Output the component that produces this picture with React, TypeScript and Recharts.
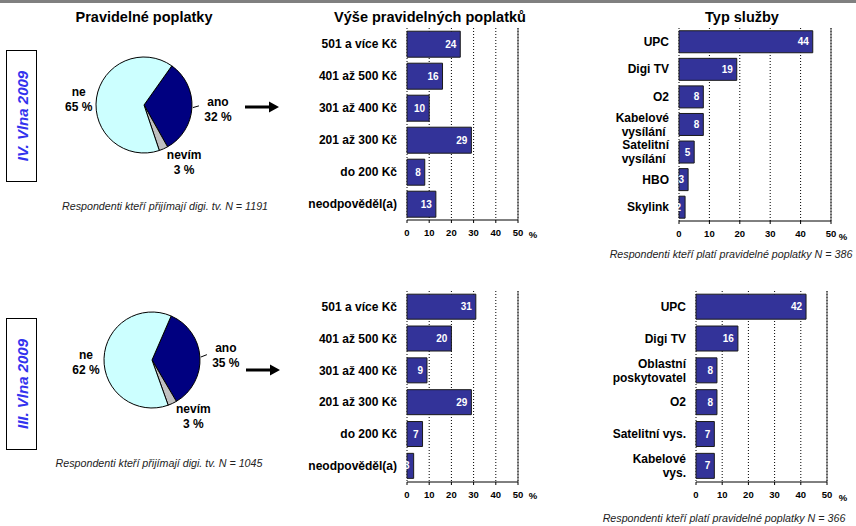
import React from "react";
import {
    PieChart,
    Pie,
    Cell,
    BarChart,
    Bar,
    XAxis,
    YAxis,
    CartesianGrid,
    ReferenceLine,
    LabelList,
} from "recharts";

// ---- data ----
const pieNames = ["ano", "nevím", "ne"];
const pieWaveIV = [32, 3, 65];
const pieWaveIII = [35, 3, 62];

const feeCategories = ["501 a více Kč", "401 až 500 Kč", "301 až 400 Kč", "201 až 300 Kč", "do 200 Kč", "neodpověděl(a)"];
const feeWaveIV = [24, 16, 10, 29, 8, 13];
const feeWaveIII = [31, 20, 9, 29, 7, 3];

const serviceCatsIV = ["UPC", "Digi TV", "O2", "Kabelové\nvysílání\u00a0", "Satelitní\nvysílání\u00a0", "HBO", "Skylink"];
const serviceWaveIV = [44, 19, 8, 8, 5, 3, 2];
const serviceCatsIII = ["UPC", "Digi TV", "Oblastní\nposkytovatel", "O2", "Satelitní vys.", "Kabelové\nvys."];
const serviceWaveIII = [42, 16, 8, 8, 7, 7];

const xTicks = [0, 10, 20, 30, 40, 50];

const pieColors: Record<string, string> = { ano: "#000080", "nevím": "#C0C0C0", ne: "#CCFFFF" };
// label placement per slice (distance beyond radius, nudge)
const pieLabelPos: Record<string, { d: number; dx: number; dy: number }> = {
    ano: { d: 26, dx: 0, dy: 0 },
    "nevím": { d: 14, dx: 15, dy: 0 },
    ne: { d: 18, dx: 0, dy: 4 },
};

const toRows = (names: string[], values: number[]) => names.map((name, i) => ({ name, value: values[i] }));

const FONT = "'Liberation Sans', Arial, sans-serif";
const RAD = Math.PI / 180;

const renderPieLabel = (props: any) => {
    const { cx, cy, midAngle, outerRadius, name, value } = props;
    const p = pieLabelPos[name];
    const r = outerRadius + p.d;
    const x = cx + r * Math.cos(-midAngle * RAD) + p.dx;
    const y = cy + r * Math.sin(-midAngle * RAD) + p.dy;
    return (
        <g>
            {name === "ano" && (
                <line
                    x1={cx + (outerRadius + 1) * Math.cos(-midAngle * RAD)}
                    y1={cy + (outerRadius + 1) * Math.sin(-midAngle * RAD)}
                    x2={cx + (outerRadius + 7) * Math.cos(-midAngle * RAD)}
                    y2={cy + (outerRadius + 7) * Math.sin(-midAngle * RAD) - 2}
                    stroke="#000"
                />
            )}
            <text x={x} y={y} textAnchor="middle" fontSize={12} fontWeight="bold" fill="#000">
                <tspan x={x} dy={-3}>{name}</tspan>
                <tspan x={x} dy={15}>{`${value} %`}</tspan>
            </text>
        </g>
    );
};

const PieBlock = ({ values, cx, cy, top }: { values: number[]; cx: number; cy: number; top: number }) => {
    const data = toRows(pieNames, values);
    // slice start so that "ano" sits on the right
    const start = values === pieWaveIV ? 54.6 : 66.5;
    return (
        <div style={{ position: "absolute", left: 0, top }}>
            <PieChart width={280} height={200}>
                <Pie
                    data={data}
                    dataKey="value"
                    nameKey="name"
                    cx={cx}
                    cy={cy}
                    outerRadius={48}
                    startAngle={start}
                    endAngle={start - 360}
                    stroke="#000"
                    strokeWidth={1}
                    label={renderPieLabel}
                    labelLine={false}
                    isAnimationActive={false}
                >
                    {data.map((d) => (
                        <Cell key={d.name} fill={pieColors[d.name]} />
                    ))}
                </Pie>
            </PieChart>
        </div>
    );
};

const CatTick = (props: any) => {
    const { x, y, payload } = props;
    const lines = String(payload.value).split("\n");
    const lh = 14;
    return (
        <text x={x} y={y} textAnchor="end" fontSize={12} fontWeight="bold" fill="#000">
            {lines.map((l, i) => (
                <tspan key={i} x={x} dy={i === 0 ? -((lines.length - 1) * lh) / 2 + 4 : lh}>
                    {l}
                </tspan>
            ))}
        </text>
    );
};

interface HBarProps {
    names: string[];
    values: number[];
    plotLeft: number;
    plotTop: number;
    plotW: number;
    plotH: number;
    labelW: number;
}

const HBar: React.FC<HBarProps> = ({ names, values, plotLeft, plotTop, plotW, plotH, labelW }) => {
    const data = toRows(names, values);
    const mt = 6;
    const mr = 30;
    const xh = 22;
    const edges = names.map((_, i) => i).concat(names.length);
    return (
        <div style={{ position: "absolute", left: plotLeft - labelW, top: plotTop - mt }}>
            <BarChart
                layout="vertical"
                width={labelW + plotW + mr}
                height={mt + plotH + xh}
                data={data}
                margin={{ top: mt, right: mr, left: 0, bottom: 0 }}
                barCategoryGap="10%"
            >
                <CartesianGrid yAxisId="cat" horizontal={false} stroke="#000" strokeDasharray="1 2" />
                <XAxis
                    type="number"
                    domain={[0, 50]}
                    ticks={xTicks}
                    height={xh}
                    tickSize={3}
                    tickMargin={6}
                    axisLine={{ stroke: "#000" }}
                    tickLine={{ stroke: "#000" }}
                    tick={{ fontSize: 9.5, fontWeight: "bold", fill: "#000" }}
                    interval={0}
                />
                <YAxis
                    yAxisId="edge"
                    type="number"
                    domain={[0, names.length]}
                    ticks={edges}
                    reversed
                    width={0}
                    tick={false}
                    tickSize={4}
                    axisLine={{ stroke: "#000" }}
                    tickLine={{ stroke: "#000" }}
                />
                <YAxis
                    yAxisId="cat"
                    type="category"
                    dataKey="name"
                    width={labelW}
                    tickLine={false}
                    axisLine={false}
                    tickSize={0}
                    tickMargin={10}
                    tick={<CatTick />}
                    interval={0}
                />
                <ReferenceLine yAxisId="cat" x={50} stroke="#404040" />
                <Bar yAxisId="cat" dataKey="value" fill="#333399" stroke="#1a1a1a" isAnimationActive={false}>
                    <LabelList dataKey="value" position="insideRight" offset={4} fill="#fff" fontSize={10} fontWeight="bold" />
                </Bar>
            </BarChart>
        </div>
    );
};

const Txt = ({ x, y, children, style }: { x: number; y: number; children: React.ReactNode; style?: React.CSSProperties }) => (
    <div
        style={{
            position: "absolute",
            left: x,
            top: y,
            transform: "translate(-50%, -50%)",
            whiteSpace: "nowrap",
            lineHeight: 1,
            ...style,
        }}
    >
        {children}
    </div>
);

const Arrow = ({ x, y }: { x: number; y: number }) => (
    <svg style={{ position: "absolute", left: x, top: y - 6 }} width={36} height={12}>
        <path d="M0 4.5 H24 V0.5 L34 6 L24 11.5 V7.5 H0 Z" fill="#000" />
    </svg>
);

const WaveBox = ({ top, height, text }: { top: number; height: number; text: string }) => (
    <div
        style={{
            position: "absolute",
            left: 6,
            top,
            width: 29,
            height: height - 2,
            border: "1px solid #000",
        }}
    >
        <div
            style={{
                position: "absolute",
                left: "50%",
                top: "50%",
                transform: "translate(-50%, -50%) rotate(-90deg)",
                whiteSpace: "nowrap",
                color: "#3333EE",
                fontWeight: "bold",
                fontStyle: "italic",
                fontSize: 15,
                lineHeight: 1,
            }}
        >
            {text}
        </div>
    </div>
);

const title: React.CSSProperties = { fontWeight: "bold", fontSize: 14.5 };
const caption: React.CSSProperties = { fontStyle: "italic", fontSize: 10.7, color: "#222" };

export default function App() {
    return (
        <div
            style={{
                position: "absolute",
                left: 0,
                top: 0,
                width: 856,
                height: 526,
                overflow: "hidden",
                background: "#fff",
                fontFamily: FONT,
            }}
        >
            <div style={{ position: "absolute", left: 0, top: 0, width: 856, height: 3, background: "#808080" }} />

            <Txt x={144} y={17} style={title}>Pravidelné poplatky</Txt>
            <Txt x={430} y={17} style={title}>Výše pravidelných poplatků</Txt>
            <Txt x={742} y={17} style={title}>Typ služby</Txt>

            <WaveBox top={50} height={132} text="IV. Vlna 2009" />
            <WaveBox top={318} height={132} text="III. Vlna 2009" />

            <PieBlock values={pieWaveIV} cx={139} cy={100} top={0} />
            <PieBlock values={pieWaveIII} cx={147} cy={85} top={270} />

            <Arrow x={245} y={107} />
            <Arrow x={246} y={370} />

            <HBar names={feeCategories} values={feeWaveIV} plotLeft={407} plotTop={28} plotW={111} plotH={192} labelW={117} />
            <HBar names={feeCategories} values={feeWaveIII} plotLeft={407} plotTop={291} plotW={111} plotH={191} labelW={117} />
            <HBar names={serviceCatsIV} values={serviceWaveIV} plotLeft={679} plotTop={28} plotW={152} plotH={193} labelW={95} />
            <HBar names={serviceCatsIII} values={serviceWaveIII} plotLeft={696} plotTop={291} plotW={131} plotH={191} labelW={110} />

            <Txt x={533} y={235} style={{ fontSize: 9.5, fontWeight: "bold" }}>%</Txt>
            <Txt x={533} y={496} style={{ fontSize: 9.5, fontWeight: "bold" }}>%</Txt>
            <Txt x={843} y={237} style={{ fontSize: 9.5, fontWeight: "bold" }}>%</Txt>
            <Txt x={843} y={498} style={{ fontSize: 9.5, fontWeight: "bold" }}>%</Txt>

            <Txt x={165} y={206} style={caption}>Respondenti kteří přijímají digi. tv. N = 1191</Txt>
            <Txt x={159} y={463} style={caption}>Respondenti kteří přijímají digi. tv. N = 1045</Txt>
            <Txt x={731} y={254} style={caption}>Respondenti kteří platí pravidelné poplatky N = 386</Txt>
            <Txt x={724} y={518} style={caption}>Respondenti kteří platí pravidelné poplatky N = 366</Txt>
        </div>
    );
}
